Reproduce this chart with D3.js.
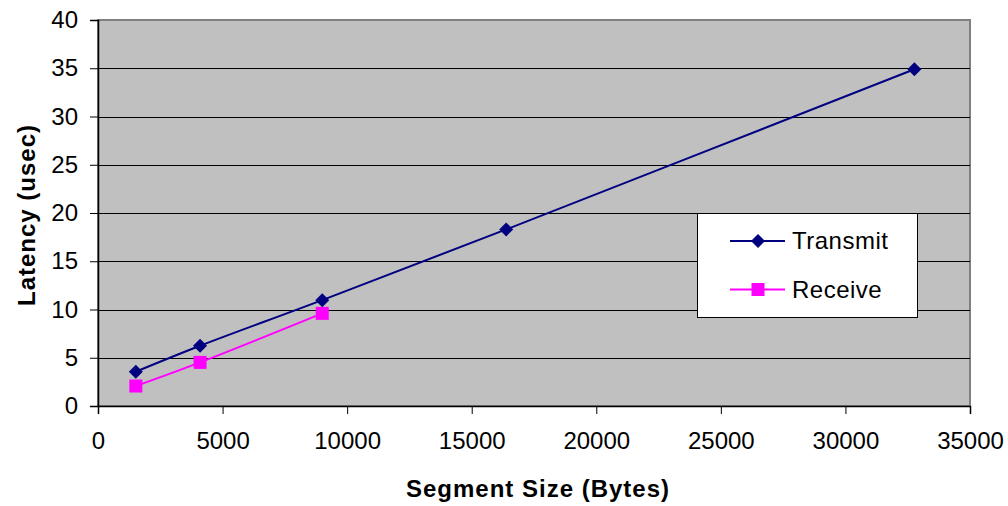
<!DOCTYPE html>
<html>
<head>
<meta charset="utf-8">
<script src="https://cdn.jsdelivr.net/npm/d3@7"></script>
<style>
  body { margin: 0; background: #fff; }
  text { font-family: "Liberation Sans", Arial, sans-serif; fill: #000; }
</style>
</head>
<body>
<div id="chart"></div>
<script>
// dados
const transmitSize = [1518, 4096, 9000, 16384, 32768];
const transmitLatency = [3.55, 6.24, 10.97, 18.3, 34.9];
const receiveSize = [1518, 4096, 9000];
const receiveLatency = [2.07, 4.52, 9.6];
const xTicks = [0, 5000, 10000, 15000, 20000, 25000, 30000, 35000];
const yTicks = [0, 5, 10, 15, 20, 25, 30, 35, 40];
const seriesNames = ["Transmit", "Receive"];

const width = 1008, height = 506;
const margin = { left: 98, top: 20, right: 38, bottom: 100 };
const plotW = width - margin.left - margin.right;
const plotH = height - margin.top - margin.bottom;

const svg = d3.select("#chart").append("svg")
  .attr("width", width)
  .attr("height", height);

const x = d3.scaleLinear().domain([0, 35000]).range([0, plotW]);
const y = d3.scaleLinear().domain([0, 40]).range([plotH, 0]);

const g = svg.append("g").attr("transform", `translate(${margin.left},${margin.top})`);

// fundo cinza da área do gráfico
g.append("rect")
  .attr("width", plotW)
  .attr("height", plotH)
  .attr("fill", "#c0c0c0")
  .attr("stroke", "#808080")
  .attr("stroke-width", 2);

// linhas de grade
g.selectAll(".grid")
  .data(yTicks.filter(d => d > 0))
  .enter().append("line")
  .attr("x1", 0).attr("x2", plotW)
  .attr("y1", d => Math.round(y(d)) + 0.5)
  .attr("y2", d => Math.round(y(d)) + 0.5)
  .attr("stroke", d => d === 40 ? "#808080" : "#000")
  .attr("stroke-width", 1);

// eixos
const yAxis = g.append("g")
  .call(d3.axisLeft(y).tickValues(yTicks).tickSize(8).tickPadding(12).tickFormat(d3.format("d")));
const xAxis = g.append("g")
  .attr("transform", `translate(0,${plotH})`)
  .call(d3.axisBottom(x).tickValues(xTicks).tickSize(8).tickPadding(18).tickFormat(d3.format("d")));

[xAxis, yAxis].forEach(a => {
  a.select(".domain").attr("stroke", "#000").attr("stroke-width", 1.5);
  a.selectAll(".tick line").attr("stroke", "#000");
  a.selectAll("text").style("font-size", "24px").style("font-family", "'Liberation Sans', Arial, sans-serif").attr("fill", "#000");
});

// linhas suavizadas
const line = d3.line()
  .x(d => x(d[0]))
  .y(d => y(d[1]))
  .curve(d3.curveCatmullRom.alpha(0.5));

const transmit = transmitSize.map((s, i) => [s, transmitLatency[i]]);
const receive = receiveSize.map((s, i) => [s, receiveLatency[i]]);

g.append("path").datum(receive)
  .attr("d", line).attr("fill", "none")
  .attr("stroke", "#ff00ff").attr("stroke-width", 2);

g.append("path").datum(transmit)
  .attr("d", line).attr("fill", "none")
  .attr("stroke", "#000080").attr("stroke-width", 2);

const diamond = s => `M0,${-s}L${s},0L0,${s}L${-s},0Z`;

g.selectAll(".tx")
  .data(transmit).enter().append("path")
  .attr("d", diamond(7))
  .attr("transform", d => `translate(${x(d[0])},${y(d[1])})`)
  .attr("fill", "#000080");

g.selectAll(".rx")
  .data(receive).enter().append("rect")
  .attr("x", d => x(d[0]) - 6.5)
  .attr("y", d => y(d[1]) - 6.5)
  .attr("width", 13).attr("height", 13)
  .attr("fill", "#ff00ff");

// legenda
const leg = svg.append("g").attr("transform", "translate(697,213)");
leg.append("rect")
  .attr("x", 0.5).attr("y", 0.5)
  .attr("width", 220).attr("height", 104)
  .attr("fill", "#fff").attr("stroke", "#000").attr("stroke-width", 1);

const legColors = ["#000080", "#ff00ff"];
seriesNames.forEach((name, i) => {
  const ly = 28 + i * 48.5;
  leg.append("line")
    .attr("x1", 33).attr("x2", 88)
    .attr("y1", ly).attr("y2", ly)
    .attr("stroke", legColors[i]).attr("stroke-width", 2);
  if (i === 0) {
    leg.append("path").attr("d", diamond(7))
      .attr("transform", `translate(61,${ly})`).attr("fill", legColors[i]);
  } else {
    leg.append("rect").attr("x", 54.5).attr("y", ly - 6.5)
      .attr("width", 13).attr("height", 13).attr("fill", legColors[i]);
  }
  leg.append("text")
    .attr("x", 95).attr("y", ly + 8)
    .style("font-size", "24px")
    .style("letter-spacing", "0.5px")
    .text(name);
});

// títulos dos eixos
svg.append("text")
  .attr("x", margin.left + plotW / 2 + 4)
  .attr("y", 497)
  .attr("text-anchor", "middle")
  .style("font-size", "24px")
  .style("font-weight", "bold")
  .style("letter-spacing", "1px")
  .text("Segment Size (Bytes)");

svg.append("text")
  .attr("transform", "translate(35,215) rotate(-90)")
  .attr("text-anchor", "middle")
  .style("font-size", "24px")
  .style("font-weight", "bold")
  .style("letter-spacing", "1px")
  .text("Latency (usec)");
</script>
</body>
</html>
